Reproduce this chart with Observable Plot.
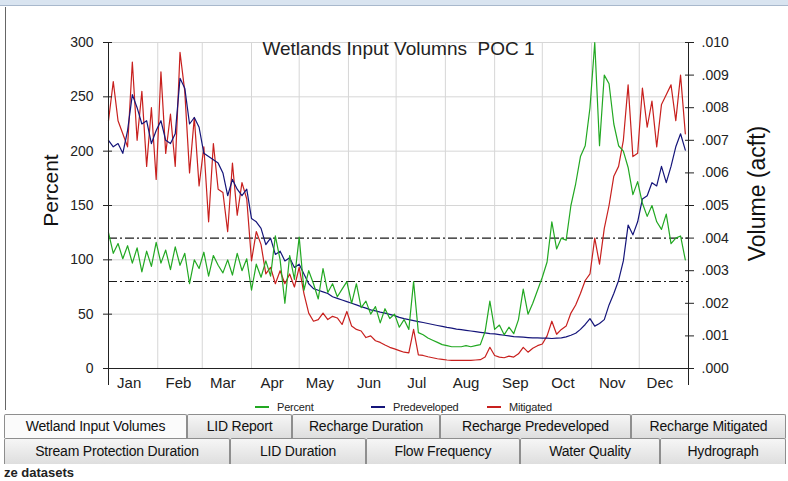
<!DOCTYPE html>
<html><head><meta charset="utf-8">
<script src="https://cdn.jsdelivr.net/npm/d3@7"></script>
<script src="https://cdn.jsdelivr.net/npm/@observablehq/plot@0.6"></script>
<style>
body{margin:0;background:#fff;}
#wrap{position:relative;width:788px;height:481px;overflow:hidden;background:#fff;font-family:"Liberation Sans",Arial,sans-serif;}
#topbar{position:absolute;left:0;top:0;width:788px;height:5px;background:#d9e4f0;border-bottom:1px solid #a8b8cc;}
#leftline{position:absolute;left:5px;top:7px;width:1px;height:403px;background:#666;}
#chart{position:absolute;left:0;top:0;}
#legend{position:absolute;left:255px;top:400px;display:flex;font-family:"Liberation Sans",Arial,sans-serif;font-size:11px;line-height:14px;color:#222;letter-spacing:-0.2px;}
#legend .it{width:116px;display:flex;align-items:center;white-space:nowrap;}
#legend .sw{display:inline-block;width:14px;height:1.5px;margin-right:8px;}
.tab{position:absolute;box-sizing:border-box;border:1px solid #8e8e8e;border-bottom:none;border-radius:2px 2px 0 0;background:linear-gradient(#f6f6f6,#dedede);font-family:"Liberation Sans",Arial,sans-serif;font-size:14px;color:#111;text-align:center;white-space:nowrap;letter-spacing:-0.2px;}
.tab.sel{background:#fbfbfb;}
#bottomtxt{position:absolute;left:4px;top:466px;font-family:"Liberation Sans",Arial,sans-serif;font-weight:bold;font-size:13px;line-height:14px;color:#222;white-space:nowrap;}
</style></head>
<body><div id="wrap">
<div id="topbar"></div>
<div id="leftline"></div>
<div id="chart"></div>
<div id="legend"></div>
<div id="tabs"></div>
<div id="bottomtxt">ze datasets</div>
</div>
<script>
// ---- data ----
const title = "Wetlands Input Volumns  POC 1";
const months = ["Jan","Feb","Mar","Apr","May","Jun","Jul","Aug","Sep","Oct","Nov","Dec"];
const monthStarts = [1,32,60,91,121,152,182,213,244,274,305,335,366];
const monthLabelDays = [14,45,73,104,134,165,195,226,257,287,318,348];
const percentTicks = [0,50,100,150,200,250,300];
const volumeTicksMilliAcft = [0,1,2,3,4,5,6,7,8,9,10];
const thresholdPercent = [80,120];
const seriesNames = ["Percent","Predeveloped","Mitigated"];
const days = d3.range(1, 366, 3);
const percent = [
 125,106,115,101,113,97,111,89,108,94,
 116,97,109,91,112,95,106,78,100,92,
 107,85,104,95,88,100,86,106,90,101,
 72,96,84,99,85,122,100,60,104,82,
 121,72,90,78,64,92,70,78,66,73,
 80,60,78,56,62,50,57,42,55,46,
 50,38,45,36,80,33,31,28,26,24,
 22,21,20,20,20,21,20,21,22,34,
 62,36,40,31,38,32,45,73,50,60,
 72,84,98,135,110,120,118,150,170,195,
 205,240,300,205,270,262,225,205,200,185,
 160,172,152,140,150,135,128,142,115,120,
 122,100];
// volumes in thousandths of an acre-foot (.001 acft)
const predeveloped = [
 7.0,6.8,6.9,6.6,7.3,8.4,8.0,7.5,7.6,6.9,
 7.3,7.6,7.0,6.9,7.2,8.9,8.6,7.5,7.7,7.4,
 6.6,6.5,6.4,6.3,6.0,5.3,5.8,5.5,5.3,5.5,
 4.6,4.5,4.3,3.8,4.0,3.5,3.6,3.3,3.4,3.1,
 3.2,2.9,2.6,2.45,2.4,2.35,2.3,2.2,2.15,2.1,
 2.05,2.0,1.95,1.9,1.85,1.8,1.77,1.73,1.7,1.66,
 1.62,1.57,1.53,1.5,1.47,1.44,1.41,1.38,1.35,1.32,
 1.29,1.26,1.24,1.21,1.19,1.17,1.15,1.13,1.11,1.09,
 1.07,1.06,1.04,1.02,1.0,0.98,0.97,0.96,0.95,0.94,
 0.94,0.93,0.93,0.92,0.93,0.94,0.97,1.02,1.08,1.2,
 1.35,1.53,1.3,1.38,1.5,1.95,2.3,2.7,3.3,4.4,
 4.1,4.5,5.2,5.3,5.7,5.6,6.2,5.7,6.2,6.8,
 7.2,6.7];
const mitigated = [
 7.6,8.8,7.6,7.2,6.8,9.4,7.0,8.5,6.2,8.0,
 5.8,9.1,6.6,7.8,6.2,9.7,8.5,6.0,7.7,5.6,
 6.8,4.5,6.9,5.5,5.4,4.2,6.3,4.7,5.7,5.2,
 3.3,4.2,3.8,2.9,3.1,2.6,3.0,2.6,2.9,2.5,
 3.1,2.3,1.7,1.45,1.5,1.7,1.5,1.6,1.55,1.35,
 1.75,1.3,1.2,1.15,0.95,1.0,0.85,0.8,0.72,0.65,
 0.6,0.55,0.5,0.48,1.2,0.42,0.4,0.36,0.33,0.3,
 0.28,0.26,0.25,0.25,0.25,0.25,0.25,0.26,0.27,0.35,
 0.65,0.4,0.35,0.33,0.38,0.35,0.45,0.65,0.5,0.62,
 0.7,0.75,1.0,1.45,1.05,1.2,1.3,1.7,1.95,2.3,
 2.7,2.9,4.0,3.2,4.3,5.0,5.9,6.2,7.0,8.7,
 6.5,6.6,8.6,7.4,8.2,6.8,8.1,8.4,8.7,7.6,
 9.0,7.2];
const tabRow1 = ["Wetland Input Volumes","LID Report","Recharge Duration","Recharge Predeveloped","Recharge Mitigated"];
const tabRow2 = ["Stream Protection Duration","LID Duration","Flow Frequency","Water Quality","Hydrograph"];

// ---- styles ----
const colors = {Percent:"#22a822", Predeveloped:"#15157a", Mitigated:"#c8201e"};
const K = 30; // 1 thousandth acft = 30 % on the shared vertical scale (.010 <-> 300)

const rows = days.map((d, i) => ({day: d, pct: percent[i], pre: predeveloped[i] * K, mit: mitigated[i] * K}));

const chart = Plot.plot({
  width: 788, height: 400,
  marginLeft: 108, marginRight: 100, marginTop: 42, marginBottom: 32,
  style: {fontFamily: "'Liberation Sans', Arial, sans-serif", fontSize: "14px", color: "#222", background: "transparent"},
  x: {domain: [1, 366], axis: null},
  y: {domain: [0, 300], axis: null},
  marks: [
    Plot.gridY(percentTicks, {stroke: "#d6d6d6", strokeOpacity: 1}),
    Plot.gridX(monthStarts, {stroke: "#d6d6d6", strokeOpacity: 1}),
    Plot.ruleY(thresholdPercent, {stroke: "#1a1a1a", strokeWidth: 1.1, strokeDasharray: "9,3,2,3"}),
    Plot.line(rows, {x: "day", y: "mit", stroke: colors.Mitigated, strokeWidth: 1.2}),
    Plot.line(rows, {x: "day", y: "pre", stroke: colors.Predeveloped, strokeWidth: 1.2}),
    Plot.line(rows, {x: "day", y: "pct", stroke: colors.Percent, strokeWidth: 1.2}),
    Plot.ruleY([0], {stroke: "#222"}),
    Plot.ruleX([1, 366], {stroke: "#222", insetBottom: -17}),
    Plot.axisY(percentTicks, {anchor: "left", tickSize: 9, dx: 4, tickPadding: 10, label: null, fontSize: 14, stroke: "#222"}),
    Plot.axisY(volumeTicksMilliAcft.map(v => v * K), {anchor: "right", tickSize: 9, dx: -4, tickPadding: 8, label: null, fontSize: 14,
      tickFormat: d => (d / K / 1000).toFixed(3).slice(1), stroke: "#222"}),
    Plot.text(months, {x: (d, i) => monthLabelDays[i], text: d => d, frameAnchor: "bottom", lineAnchor: "top", dy: 9, fontSize: 15, fill: "#222"}),
    Plot.text([title], {frameAnchor: "top", lineAnchor: "top", dy: -1, fontSize: 19, fill: "#222"}),
    Plot.text(["Percent"], {frameAnchor: "left", textAnchor: "middle", rotate: -90, dx: -57, dy: -15, fontSize: 21, fill: "#111"}),
    Plot.text(["Volume (acft)"], {frameAnchor: "right", textAnchor: "middle", rotate: -90, dx: 69, dy: -12, fontSize: 23, fill: "#111"})
  ]
});
document.getElementById("chart").appendChild(chart);

// legend
const lg = document.getElementById("legend");
seriesNames.forEach(n => {
  const it = document.createElement("div"); it.className = "it";
  const sw = document.createElement("span"); sw.className = "sw"; sw.style.background = colors[n];
  it.appendChild(sw); it.appendChild(document.createTextNode(n)); lg.appendChild(it);
});

// tabs
const tabs = document.getElementById("tabs");
const row1Layout = [[4,183],[187,105],[292,148],[440,191],[631,155]];
const row2Layout = [[4,226],[230,136],[366,154],[520,140],[660,126]];
function addTab(label, [l, w], top, h, sel) {
  const t = document.createElement("div"); t.className = "tab" + (sel ? " sel" : "");
  t.style.left = l + "px"; t.style.width = w + "px"; t.style.top = top + "px"; t.style.height = h + "px";
  t.style.lineHeight = (h - 1) + "px";
  t.textContent = label; tabs.appendChild(t);
}
tabRow2.forEach((s, i) => addTab(s, row2Layout[i], 438, 26, false));
tabRow1.forEach((s, i) => addTab(s, row1Layout[i], 414, 24, i === 0));
</script>
</body></html>
